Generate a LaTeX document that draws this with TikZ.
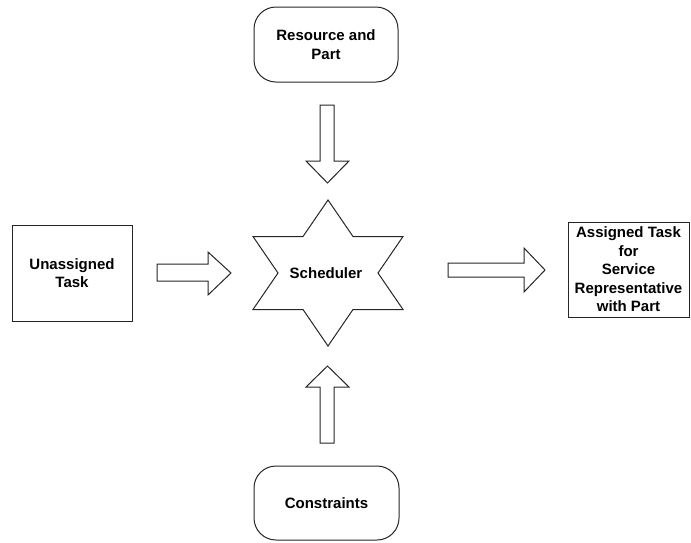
\documentclass[tikz,border=0pt]{standalone}
\usepackage{fontspec}
\setmainfont{Liberation Sans}
\begin{document}
\begin{tikzpicture}[x=1pt,y=-1pt,
  lbl/.style={font=\bfseries\fontsize{15}{18.5}\selectfont, align=center, inner sep=0pt},
  outline/.style={draw=black!85, line width=1pt, fill=white},
  boxnode/.style={outline, rectangle, inner sep=0pt, font=\bfseries\fontsize{15}{18.5}\selectfont, align=center},
  roundnode/.style={boxnode, rounded corners=22pt}]
\useasboundingbox (0,0) rectangle (691,542);
% boxes
\node[roundnode, minimum width=144pt, minimum height=75pt] (res) at (326,44.5) {Resource and\\Part};
\node[roundnode, minimum width=145pt, minimum height=74pt] (con) at (326.5,503) {Constraints};
\node[boxnode, minimum width=120pt, minimum height=96pt] (un) at (72,273) {Unassigned\\Task};
\node[boxnode, minimum width=121pt, minimum height=95pt] (as) at (628.5,269.5) {Assigned Task\\for\\Service\\Representative\\with Part};
% star
\draw[outline] (328,200) -- (353,236.5) -- (403,236.5) -- (378,273) -- (403,309.5) -- (353,309.5)
  -- (328,346) -- (303,309.5) -- (253,309.5) -- (278,273) -- (253,236.5) -- (303,236.5) -- cycle;
\node[lbl] (sched) at (326,273) {Scheduler};
% block arrows
\draw[outline] (320,105) -- (334,105) -- (334,161) -- (349,161) -- (327.5,183) -- (306,161) -- (320,161) -- cycle;
\draw[outline] (320,443) -- (334,443) -- (334,387) -- (349,387) -- (327.5,366) -- (306,387) -- (320,387) -- cycle;
\draw[outline] (157,264) -- (208,264) -- (208,252) -- (231,273) -- (208,295) -- (208,281) -- (157,281) -- cycle;
\draw[outline] (448,263) -- (524,263) -- (524,248) -- (545,270) -- (524,292) -- (524,277) -- (448,277) -- cycle;
\end{tikzpicture}
\end{document}
